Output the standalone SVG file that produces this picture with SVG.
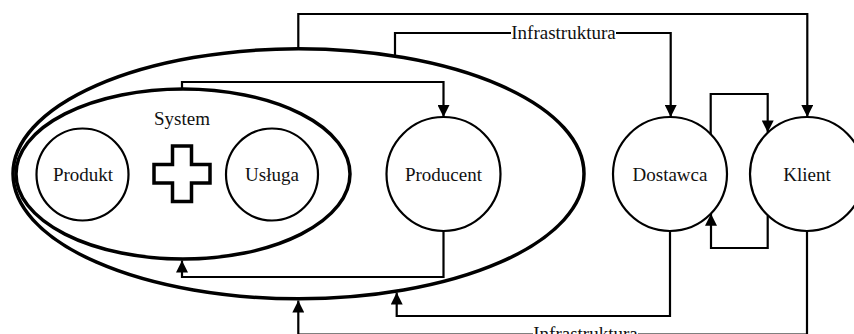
<svg xmlns="http://www.w3.org/2000/svg" width="854" height="334" viewBox="0 0 854 334">
<style>
.big{fill:none;stroke:#000;stroke-width:3.5}
.node{fill:#fff;stroke:#000;stroke-width:2.2}
.conn{fill:none;stroke:#000;stroke-width:2.2}
.lbl{font-family:"Liberation Serif","Times New Roman",serif;font-size:19px;fill:#111;text-anchor:middle}
</style>
<defs>
<marker id="arr" markerUnits="userSpaceOnUse" markerWidth="12" markerHeight="12" refX="12" refY="6" orient="auto" viewBox="0 0 12 12">
<path d="M0,0 L12,6 L0,12 z" fill="#000"/>
</marker>
</defs>
<rect width="854" height="334" fill="#fff"/>
<g id="outer-ellipse"><ellipse class="big" cx="298.5" cy="173.8" rx="285.5" ry="125"/></g>
<g id="system">
<ellipse class="big" cx="183" cy="174" rx="167" ry="85"/>
<text class="lbl" x="182" y="125">System</text>
</g>
<g id="produkt"><circle class="node" cx="82.5" cy="174.5" r="46"/><text class="lbl" x="83" y="181">Produkt</text></g>
<g id="plus"><path d="M172.5,146 H191.5 V164.5 H210 V183 H191.5 V201.5 H172.5 V183 H154 V164.5 H172.5 Z" fill="#fff" stroke="#000" stroke-width="3.5"/></g>
<g id="usluga"><circle class="node" cx="272" cy="174.5" r="46"/><text class="lbl" x="272" y="181">Usługa</text></g>
<g id="producent"><circle class="node" cx="443.5" cy="174" r="57"/><text class="lbl" x="443.5" y="181">Producent</text></g>
<g id="dostawca"><circle class="node" cx="670" cy="174" r="57"/><text class="lbl" x="670" y="181">Dostawca</text></g>
<g id="klient"><circle class="node" cx="807" cy="174" r="57"/><text class="lbl" x="807" y="181">Klient</text></g>
<g id="connectors">
<path class="conn" d="M298.3,49 V14 H807.3 V117" marker-end="url(#arr)"/>
<path class="conn" d="M395,55 V33 H670.7 V117" marker-end="url(#arr)"/>
<rect x="511" y="24" width="105" height="18" fill="#fff"/>
<text class="lbl" x="563.5" y="39">Infrastruktura</text>
<path class="conn" d="M182,89 V82 H443.5 V117" marker-end="url(#arr)"/>
<path class="conn" d="M443.5,231 V277 H182 V260.5" marker-end="url(#arr)"/>
<path class="conn" d="M670,231 V316 H396.7 V292.5" marker-end="url(#arr)"/>
<path class="conn" d="M807,231 V334.5 H298.3 V300.5" marker-end="url(#arr)"/>
<rect x="533" y="325" width="105" height="18" fill="#fff"/>
<text class="lbl" x="585.5" y="340">Infrastruktura</text>
<path class="conn" d="M710.7,134.4 V94 H767.7 V132.4" marker-end="url(#arr)"/>
<path class="conn" d="M767.7,215.6 V248 H711 V213.8" marker-end="url(#arr)"/>
</g>
</svg>
